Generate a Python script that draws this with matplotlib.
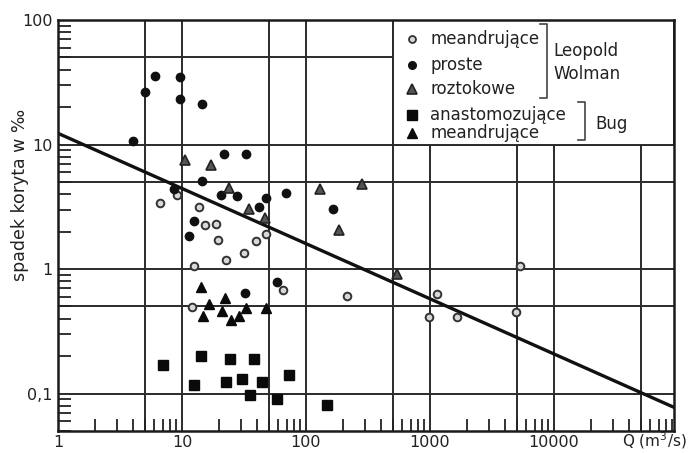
import matplotlib
matplotlib.use("Agg")
import matplotlib.pyplot as plt
import numpy as np
from matplotlib.patches import Rectangle
from matplotlib.ticker import FixedLocator, FixedFormatter, NullFormatter

plt.rcParams['font.family'] = ['DejaVu Sans']

# ---- data (Q in m3/s, slope in per mille) ----
# Leopold & Wolman: meandering rivers (open circles)
q_lw_meander = [6.65, 9.1, 13.7, 15.3, 18.8, 19.5, 39.5, 47.6, 31.6, 22.6, 12.5,
                65.3, 214, 12.0, 982, 1650, 4940, 5320, 1138]
s_lw_meander = [3.4, 3.9, 3.16, 2.26, 2.3, 1.71, 1.68, 1.92, 1.35, 1.18, 1.06,
                0.68, 0.605, 0.494, 0.41, 0.41, 0.45, 1.06, 0.63]

# Leopold & Wolman: straight rivers (filled circles)
q_lw_straight = [6.06, 5.03, 9.6, 9.6, 14.5, 4.0, 21.8, 32.8, 14.5, 69, 165, 41.8,
                 48, 27.8, 20.6, 12.5, 11.4, 32.2, 58.3, 8.6]
s_lw_straight = [35.3, 26.3, 34.7, 23, 21, 10.6, 8.46, 8.46, 5.13, 4.1, 3.05, 3.16,
                 3.74, 3.88, 3.95, 2.44, 1.85, 0.64, 0.785, 4.4]

# Leopold & Wolman: braided rivers (grey triangles)
q_lw_braided = [10.6, 17.1, 23.9, 34.7, 46.7, 130, 283, 185, 542]
s_lw_braided = [7.57, 6.9, 4.5, 3.05, 2.58, 4.42, 4.85, 2.07, 0.91]

# Bug: anastomosing (squares)
q_bug_anast = [7.03, 14.2, 24.4, 38.1, 12.5, 22.6, 30.5, 44.2, 35.3, 72.9, 58.3, 147]
s_bug_anast = [0.171, 0.199, 0.191, 0.188, 0.118, 0.123, 0.13, 0.123, 0.098, 0.142,
               0.0896, 0.0815]

# Bug: meandering (black triangles)
q_bug_meander = [14.2, 16.5, 14.8, 22.2, 21, 24.8, 28.8, 32.8, 47.6]
s_bug_meander = [0.716, 0.52, 0.418, 0.583, 0.458, 0.388, 0.418, 0.485, 0.485]

# threshold line S = a * Q^b
line_a = 12.3
line_b = -0.443

x_ticks = [1, 10, 100, 1000, 10000]
x_tick_labels = ["1", "10", "100", "1000", "10000"]
y_ticks = [0.1, 1, 10, 100]
y_tick_labels = ["0,1", "1", "10", "100"]
x_grid = [5, 10, 50, 100, 500, 1000, 5000, 10000, 50000]
y_grid = [0.1, 0.5, 1, 5, 10, 50]

XMIN, XMAX = 1, 93000
YMIN, YMAX = 0.05, 100

# ---- figure ----
W, H = 689, 453
fig = plt.figure(figsize=(W / 100, H / 100), dpi=100)
ax = fig.add_axes([58/W, 1-431/H, 616/W, 411/H])
ax.set_xscale('log')
ax.set_yscale('log')
ax.set_xlim(XMIN, XMAX)
ax.set_ylim(YMIN, YMAX)

gc = '#2a2a2a'
for xv in x_grid:
    ax.axvline(xv, color=gc, lw=1.4, zorder=1)
for yv in y_grid:
    ax.axhline(yv, color=gc, lw=1.4, zorder=1)

# legend box covering the upper-right corner of the grid
ax.add_patch(Rectangle((500, 10), XMAX - 500, YMAX - 10, facecolor='white',
                       edgecolor=gc, lw=1.4, zorder=2))

# threshold line
lq = np.array([XMIN, XMAX])
ax.plot(lq, line_a * lq ** line_b, color='#111111', lw=2.4, zorder=3)

# data
ax.plot(q_lw_meander, s_lw_meander, 'o', ms=5.5, mfc='#d8d8d8', mec='#333333',
        mew=1.4, zorder=4)
ax.plot(q_lw_straight, s_lw_straight, 'o', ms=6, mfc='#111111', mec='#111111', zorder=4)
ax.plot(q_lw_braided, s_lw_braided, '^', ms=7, mfc='#555555', mec='#222222',
        mew=1.2, zorder=4)
ax.plot(q_bug_anast, s_bug_anast, 's', ms=7.5, mfc='#0a0a0a', mec='#0a0a0a', zorder=4)
ax.plot(q_bug_meander, s_bug_meander, '^', ms=7, mfc='#0a0a0a', mec='#0a0a0a', zorder=4)

# ticks
ax.xaxis.set_major_locator(FixedLocator(x_ticks))
ax.xaxis.set_major_formatter(FixedFormatter(x_tick_labels))
ax.yaxis.set_major_locator(FixedLocator(y_ticks))
ax.yaxis.set_major_formatter(FixedFormatter(y_tick_labels))
minor_x = [d * m for d in [1, 10, 100, 1000, 10000] for m in range(2, 10) if d * m < XMAX]
minor_y = [d * m for d in [0.01, 0.1, 1, 10] for m in range(2, 10) if YMIN <= d * m < YMAX]
ax.xaxis.set_minor_locator(FixedLocator(minor_x))
ax.yaxis.set_minor_locator(FixedLocator(minor_y))
ax.xaxis.set_minor_formatter(NullFormatter())
ax.yaxis.set_minor_formatter(NullFormatter())
ax.tick_params(which='major', direction='in', length=0, labelsize=11.5,
               colors='#222222', pad=3)
ax.tick_params(which='minor', direction='in', length=9, width=1.3, color='#222222')
ax.tick_params(axis='y', which='major', pad=4)
for sp in ax.spines.values():
    sp.set_linewidth(1.8)
    sp.set_color('#1a1a1a')
    sp.set_zorder(5)

fig.text(20 / W, 1 - 195 / H, 'spadek koryta w ‰', rotation=90, ha='center',
         va='center', fontsize=12.5, color='#222222')
fig.text(687 / W, 1 - 441 / H, 'Q (m$^3$/s)', ha='right', va='center',
         fontsize=11, color='#222222')

# ---- legend (drawn manually) ----
tc = '#222222'
mx, tx = 0.575, 0.604
rows = [0.954, 0.891, 0.832, 0.769, 0.725]
labels = ['meandrujące', 'proste', 'roztokowe', 'anastomozujące', 'meandrujące']
styles = [dict(marker='o', ms=5, mfc='#d8d8d8', mec='#333333', mew=1.3),
          dict(marker='o', ms=5.5, mfc='#111111', mec='#111111'),
          dict(marker='^', ms=7, mfc='#555555', mec='#222222', mew=1.2),
          dict(marker='s', ms=7, mfc='#0a0a0a', mec='#0a0a0a'),
          dict(marker='^', ms=7, mfc='#0a0a0a', mec='#0a0a0a')]
for y, lab, st in zip(rows, labels, styles):
    ax.plot([mx], [y], transform=ax.transAxes, linestyle='none', zorder=6,
            clip_on=False, **st)
    ax.text(tx, y, lab, transform=ax.transAxes, ha='left', va='center',
            fontsize=12, color=tc, zorder=6)

def bracket(x, y0, y1):
    ax.plot([x - 0.012, x, x, x - 0.012], [y0, y0, y1, y1], transform=ax.transAxes,
            color='#444444', lw=1.2, zorder=6, clip_on=False)

bracket(0.794, 0.990, 0.810)
ax.text(0.804, 0.925, 'Leopold', transform=ax.transAxes, ha='left', va='center',
        fontsize=12, color=tc, zorder=6)
ax.text(0.804, 0.869, 'Wolman', transform=ax.transAxes, ha='left', va='center',
        fontsize=12, color=tc, zorder=6)
bracket(0.856, 0.800, 0.708)
ax.text(0.872, 0.747, 'Bug', transform=ax.transAxes, ha='left', va='center',
        fontsize=12, color=tc, zorder=6)

fig.savefig('out.png', dpi=100)
